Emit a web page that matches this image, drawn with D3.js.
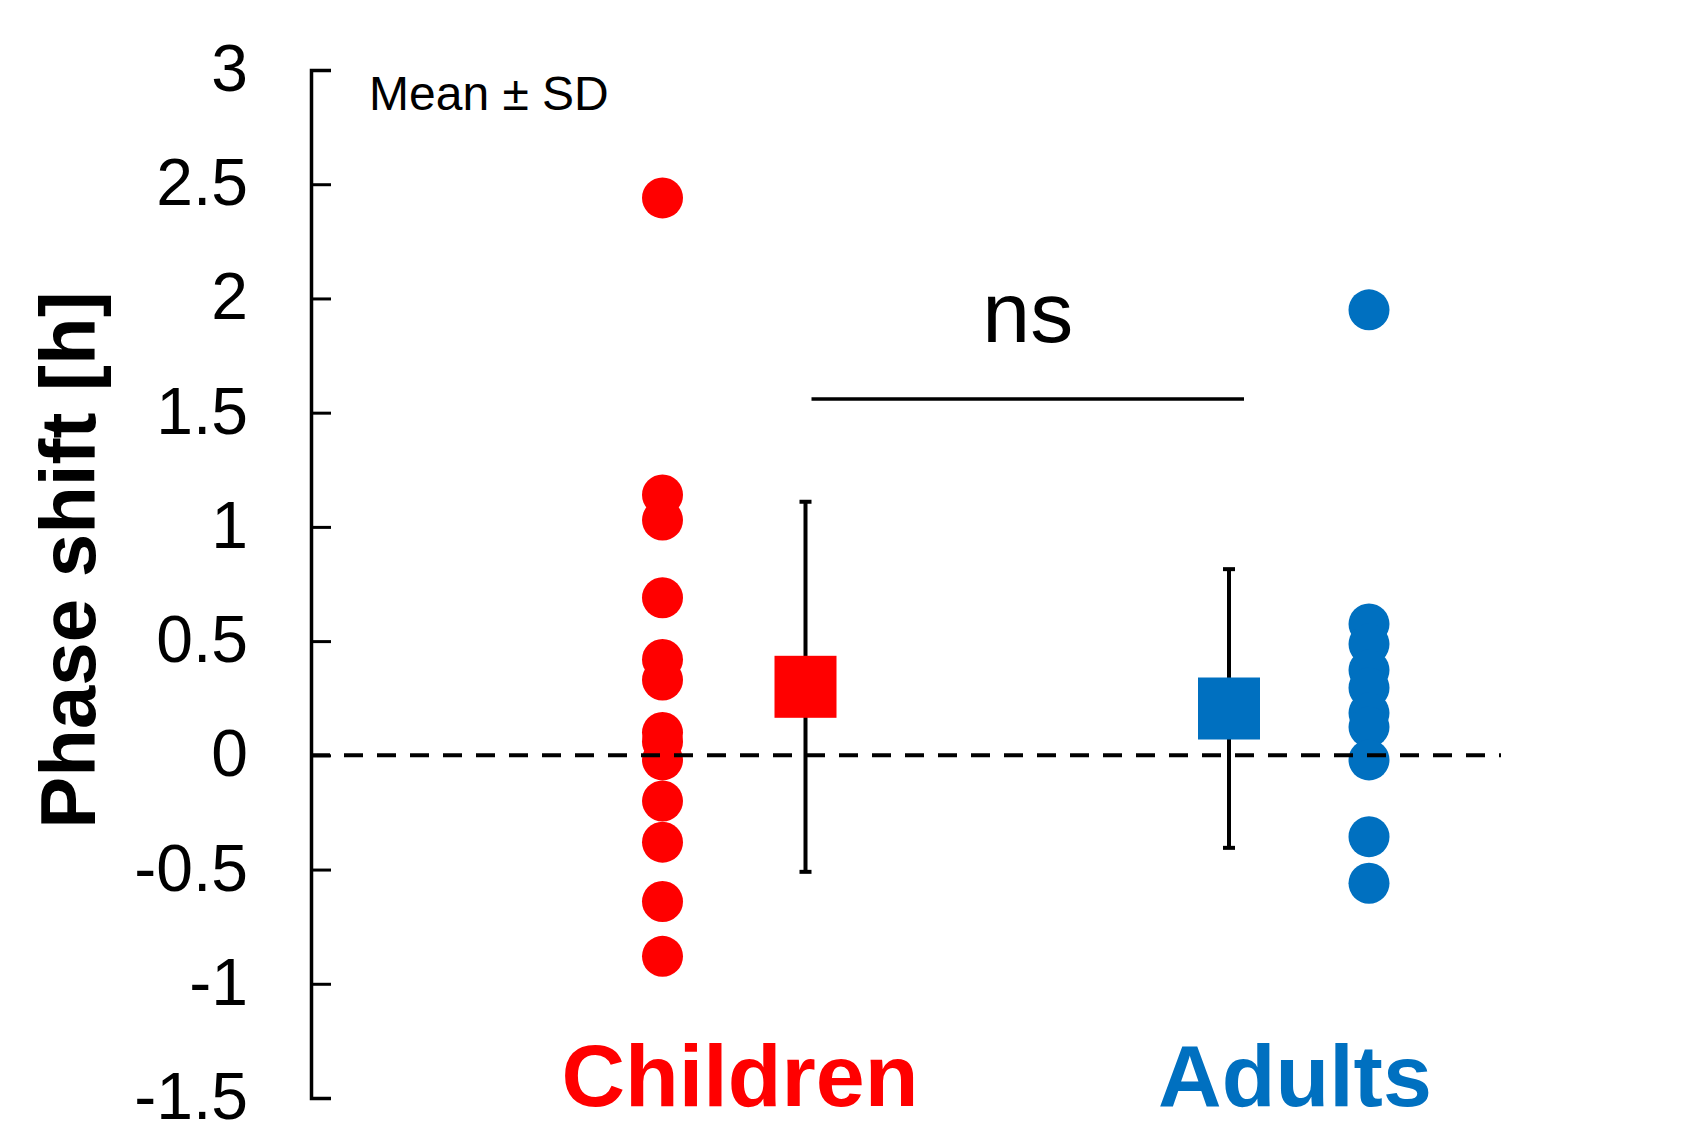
<!DOCTYPE html>
<html>
<head>
<meta charset="utf-8">
<script src="https://cdn.jsdelivr.net/npm/d3@7"></script>
<style>
  html, body { margin: 0; padding: 0; background: #fff; }
  svg { display: block; }
  text { font-family: "Liberation Sans", Arial, Helvetica, sans-serif; }
</style>
</head>
<body>
<svg id="chart" width="1703" height="1133"></svg>
<script>
// ---- data ----
const groups = ["Children", "Adults"];
const childrenValues = [2.44, 1.14, 1.03, 0.69, 0.42, 0.33, 0.10, 0.06, -0.02, -0.20, -0.38, -0.64, -0.88];
const adultsValues = [1.95, 0.575, 0.487, 0.373, 0.295, 0.185, 0.124, -0.02, -0.356, -0.56];
const groupMeans = [0.30, 0.205];
const groupSDs = [0.81, 0.61];
const yTicks = [3, 2.5, 2, 1.5, 1, 0.5, 0, -0.5, -1, -1.5];
const yTickLabels = ["3", "2.5", "2", "1.5", "1", "0.5", "0", "-0.5", "-1", "-1.5"];
const significanceLabel = "ns";
const significanceLevel = 1.56;
const yAxisTitle = "Phase shift [h]";
const legendNote = "Mean ± SD";
const groupColors = ["#FF0000", "#0070C0"];

// ---- layout ----
const svg = d3.select("#chart");
const axisX = 311;
const y = d3.scaleLinear().domain([-1.5, 3]).range([1098, 70]);
const x = d3.scalePoint().domain(groups).range([734, 1299]);
const color = d3.scaleOrdinal().domain(groups).range(groupColors);
const offset = 71.5;
// children: dots left, mean right; adults: mean left, dots right
const dotX = g => g === "Children" ? x(g) - offset : x(g) + 70;
const meanX = g => g === "Children" ? x(g) + offset : x(g) - 70;
const dotR = 20.5;
const sq = 62;

const valuesByGroup = { Children: childrenValues, Adults: adultsValues };

// y axis
const yAxis = d3.axisLeft(y)
  .tickValues(yTicks)
  .tickFormat((d, i) => yTickLabels[i])
  .tickSizeInner(-20)
  .tickSizeOuter(-20)
  .tickPadding(63);

const ax = svg.append("g")
  .attr("transform", `translate(${axisX},0)`)
  .call(yAxis);
ax.select(".domain").attr("stroke", "#000").attr("stroke-width", 3.5).attr("fill", "none");
ax.selectAll(".tick line").attr("stroke", "#000").attr("stroke-width", 3);
ax.selectAll(".tick text")
  .attr("fill", "#000")
  .attr("font-size", 66)
  .attr("dy", "0.31em")
  .style("font-family", '"Liberation Sans", Arial, sans-serif');

// y axis title
svg.append("text")
  .attr("transform", `translate(95, ${560}) rotate(-90)`)
  .attr("text-anchor", "middle")
  .attr("font-size", 78)
  .attr("font-weight", "bold")
  .attr("fill", "#000")
  .text(yAxisTitle);

// legend note
svg.append("text")
  .attr("x", 369)
  .attr("y", 110)
  .attr("font-size", 48)
  .attr("fill", "#000")
  .text(legendNote);

// error bars
const eb = svg.append("g").attr("class", "errorbars");
groups.forEach((g, i) => {
  const cx = meanX(g);
  const top = y(groupMeans[i] + groupSDs[i]);
  const bot = y(groupMeans[i] - groupSDs[i]);
  eb.append("line").attr("x1", cx).attr("x2", cx).attr("y1", top).attr("y2", bot)
    .attr("stroke", "#000").attr("stroke-width", 4);
  [top, bot].forEach(yy => {
    eb.append("line").attr("x1", cx - 6).attr("x2", cx + 6).attr("y1", yy).attr("y2", yy)
      .attr("stroke", "#000").attr("stroke-width", 4);
  });
});

// mean squares
svg.append("g").selectAll("rect")
  .data(groups)
  .join("rect")
  .attr("x", g => meanX(g) - sq / 2)
  .attr("y", (g, i) => y(groupMeans[i]) - sq / 2)
  .attr("width", sq)
  .attr("height", sq)
  .attr("fill", g => color(g));

// individual dots
groups.forEach(g => {
  svg.append("g").selectAll("circle")
    .data(valuesByGroup[g])
    .join("circle")
    .attr("cx", dotX(g))
    .attr("cy", d => y(d))
    .attr("r", dotR)
    .attr("fill", color(g));
});

// zero dashed line
svg.append("line")
  .attr("x1", axisX).attr("x2", 1501)
  .attr("y1", y(0)).attr("y2", y(0))
  .attr("stroke", "#000")
  .attr("stroke-width", 4)
  .attr("stroke-dasharray", "19,14");

// significance bar
svg.append("line")
  .attr("x1", meanX("Children") + 6).attr("x2", meanX("Adults") + 15)
  .attr("y1", y(significanceLevel)).attr("y2", y(significanceLevel))
  .attr("stroke", "#000").attr("stroke-width", 3.5);
svg.append("text")
  .attr("x", (meanX("Children") + 6 + meanX("Adults") + 15) / 2)
  .attr("y", y(significanceLevel) - 57)
  .attr("text-anchor", "middle")
  .attr("font-size", 86)
  .attr("fill", "#000")
  .text(significanceLabel);

// group labels
svg.append("g").selectAll("text")
  .data(groups)
  .join("text")
  .attr("x", g => x(g) + (g === "Children" ? 6 : -4))
  .attr("y", 1106)
  .attr("text-anchor", "middle")
  .attr("font-size", 88)
  .attr("font-weight", "bold")
  .attr("fill", g => color(g))
  .text(g => g);
</script>
</body>
</html>
